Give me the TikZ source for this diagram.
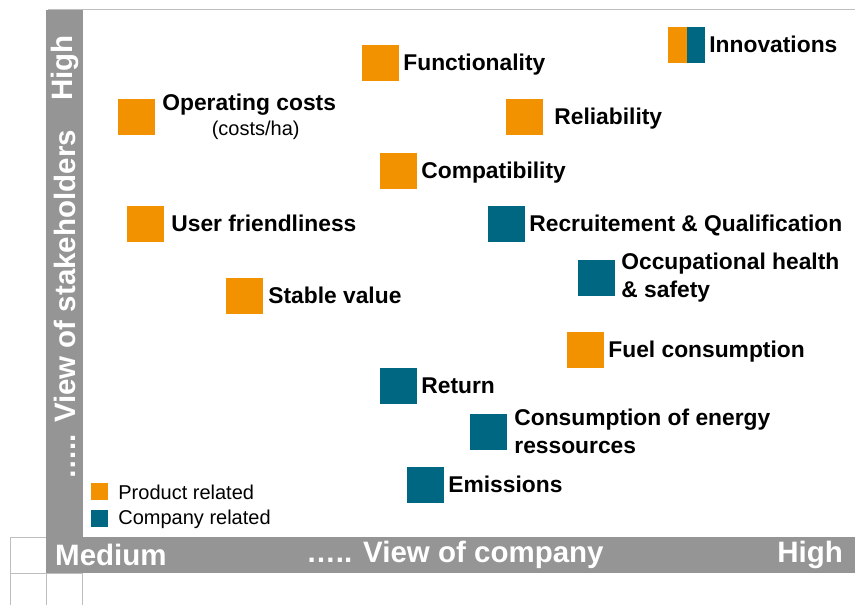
\documentclass[tikz,border=0pt]{standalone}
\usepackage{fontspec}
\setmainfont{Liberation Sans}
\usepackage{xcolor}
\usepackage{tikz}
\usetikzlibrary{positioning}
\definecolor{prodorange}{RGB}{243,146,0}
\definecolor{compteal}{RGB}{0,103,130}
\definecolor{bargray}{RGB}{149,149,149}
\definecolor{gridgray}{RGB}{190,190,190}
\def\lblfont{\bfseries\fontsize{22.8}{28}\selectfont}
\def\axfont{\bfseries\fontsize{29.5}{34}\selectfont}
\def\legfont{\fontsize{20}{24}\selectfont}

\begin{document}
\begin{tikzpicture}[x=1pt,y=-1pt,
  prod/.style={fill=prodorange,minimum width=37pt,minimum height=36pt,inner sep=0pt},
  comp/.style={prod,fill=compteal},
  lbl/.style={font=\lblfont,inner sep=0pt,text height=16pt,text depth=4.5pt,yshift=-1.5pt},
  lbltwo/.style={font=\lblfont,inner sep=0pt,align=left},
  axis/.style={font=\axfont,text=white,inner sep=0pt},
  legsq/.style={minimum size=17pt,inner sep=0pt},
  leg/.style={font=\legfont,inner sep=0pt,yshift=-0.5pt}]
\useasboundingbox (0,0) rectangle (855,605);

% frame and grey axis bars
\draw[gridgray,line width=1.2pt] (48,9.5) -- (855,9.5);
\fill[bargray] (46,10) rectangle (83,537);
\fill[bargray] (46,537) rectangle (855,573);
\draw[gridgray,line width=1pt] (10.5,605) -- (10.5,537.5) -- (46,537.5);
\draw[gridgray,line width=1pt] (10.5,573) -- (83,573);
\draw[gridgray,line width=1pt] (46,573) -- (46,605);
\draw[gridgray,line width=1pt] (82.5,573) -- (82.5,605);

% axis texts
\node[axis,anchor=west] (xLow) at (55,555) {Medium};
\node[axis] (xName) at (455,555) {….. View of company};
\node[axis,anchor=east] (xHigh) at (843,555) {High};
\node[axis,rotate=90,anchor=east] (yHigh) at (64.5,35) {High};
\node[axis,rotate=90,anchor=west] (yName) at (64.5,480) {….. View of stakeholders};

% aspects
\node[prod] (sqFunc) at (380.5,63) {};
\node[lbl,right=4pt of sqFunc] (txFunc) {Functionality};
\node[prod] (sqCost) at (136.5,117) {};
\node[lbltwo,align=center,right=7pt of sqCost] (txCost)
  {Operating costs\\[-3pt]{\mdseries\fontsize{20}{22}\selectfont\hspace*{13pt}(costs/ha)}};
\node[prod] (sqRel) at (524.5,117) {};
\node[lbl,right=11pt of sqRel] (txRel) {Reliability};
\node[prod,path picture={\fill[compteal] (path picture bounding box.north) rectangle
  (path picture bounding box.south east);}] (sqInno) at (686.5,45) {};
\node[lbl,right=4pt of sqInno] (txInno) {Innovations};
\node[prod] (sqComp) at (398.5,171) {};
\node[lbl,right=4pt of sqComp] (txComp) {Compatibility};
\node[prod] (sqUser) at (145.5,224) {};
\node[lbl,right=7pt of sqUser] (txUser) {User friendliness};
\node[comp] (sqRecr) at (506.5,224) {};
\node[lbl,right=4pt of sqRecr] (txRecr) {Recruitement \& Qualification};
\node[comp] (sqOcc) at (596.5,278) {};
\node[lbltwo,right=6pt of sqOcc] (txOcc) {Occupational health\\\& safety};
\node[prod] (sqStab) at (244.5,296) {};
\node[lbl,right=5pt of sqStab] (txStab) {Stable value};
\node[prod] (sqFuel) at (585.5,350) {};
\node[lbl,right=4pt of sqFuel] (txFuel) {Fuel consumption};
\node[comp] (sqRet) at (398.5,386) {};
\node[lbl,right=4pt of sqRet] (txRet) {Return};
\node[comp] (sqEner) at (488.5,431.5) {};
\node[lbltwo,right=7pt of sqEner] (txEner) {Consumption of energy\\ressources};
\node[comp] (sqEmi) at (425.5,485) {};
\node[lbl,right=4pt of sqEmi] (txEmi) {Emissions};

% legend
\node[legsq,fill=prodorange] (lgProd) at (99.5,491.5) {};
\node[leg,right=10pt of lgProd] (lgProdTx) {Product related};
\node[legsq,fill=compteal] (lgComp) at (99.5,518.5) {};
\node[leg,right=10pt of lgComp] (lgCompTx) {Company related};
\end{tikzpicture}
\end{document}
